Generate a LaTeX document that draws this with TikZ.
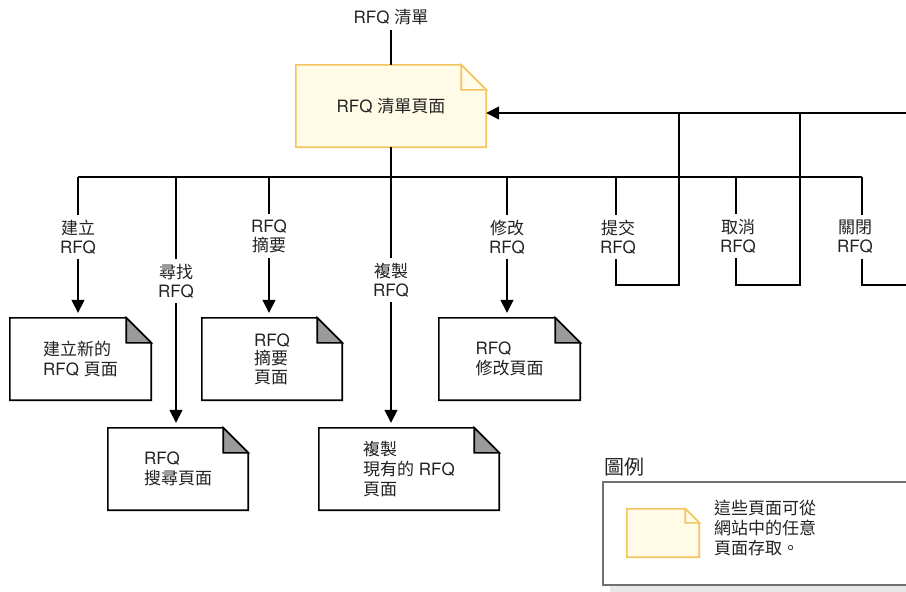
\documentclass[tikz,border=0pt]{standalone}
\usepackage{fontspec}
\setmainfont{TeX Gyre Heros}
\newfontfamily\zhfont{Noto Sans CJK TC}
\newcommand\zh[1]{{\zhfont #1}}
\usetikzlibrary{arrows.meta,backgrounds}
\definecolor{pgfill}{HTML}{FFFBE6}
\definecolor{pgedge}{HTML}{F2C45E}
\definecolor{foldgray}{HTML}{9A9A9A}
\definecolor{legedge}{HTML}{707070}
\definecolor{shadowgray}{HTML}{E8E8E8}
\definecolor{txt}{HTML}{222222}
\tikzset{
  conn/.style={line width=1.6pt, black},
  arr/.style={conn, -{Triangle[width=13pt,length=13pt]}, shorten >=5pt},
  lbl/.style={font=\fontsize{17}{19}\selectfont, text=txt, align=center, inner xsep=2pt, inner ysep=5pt},
  pagenode/.style={font=\fontsize{17}{20}\selectfont, text=txt, align=left, inner sep=0pt},
  whitepage/.style={draw=black, fill=white, line width=1.6pt, line join=miter},
  whitefold/.style={draw=black, fill=foldgray, line width=1.6pt, line join=miter},
  yellowpage/.style={draw=pgedge, fill=pgfill, line width=1.6pt, line join=miter},
  yellowfold/.style={draw=pgedge, fill=pgfill, line width=1.6pt, line join=miter},
}
\newcommand\pageoutline[4]{% name, fold, body style, fold style
  \path[#3] (#1.south west) -- (#1.north west) -- ([xshift=-#2]#1.north east)
    -- ([yshift=-#2]#1.north east) -- (#1.south east) -- cycle;
  \path[#4] ([xshift=-#2]#1.north east) -- ([xshift=-#2,yshift=-#2]#1.north east)
    -- ([yshift=-#2]#1.north east) -- cycle;
}
\begin{document}
\begin{tikzpicture}[x=1pt,y=-1pt]
\useasboundingbox (0,0) rectangle (906,592);
\clip (0,0) rectangle (906,592);

% pages
\node[lbl] (top) at (391,17) {RFQ \zh{清單}};
\node[pagenode, minimum width=190pt, minimum height=82pt, align=center] (main) at (391,106) {RFQ \zh{清單頁面}};
\node[pagenode, minimum width=141pt, minimum height=82pt] (create) at (80.5,359) {\zh{建立新的}\\RFQ \zh{頁面}};
\node[pagenode, minimum width=140pt, minimum height=82pt] (search) at (178,469) {RFQ\\\zh{搜尋頁面}};
\node[pagenode, minimum width=140pt, minimum height=82pt, font=\fontsize{17}{18.5}\selectfont] (summary) at (272,359) {RFQ\\\zh{摘要}\\\zh{頁面}};
\node[pagenode, minimum width=180pt, minimum height=82pt] (copy) at (409,469) {\zh{複製}\\\zh{現有的} RFQ\\\zh{頁面}};
\node[pagenode, minimum width=141pt, minimum height=82pt] (modify) at (509.5,359) {RFQ\\\zh{修改頁面}};

% branch labels
\node[lbl] (l1) at (78,237) {\zh{建立}\\RFQ};
\node[lbl] (l2) at (176,281) {\zh{尋找}\\RFQ};
\node[lbl] (l3) at (269,236) {RFQ\\\zh{摘要}};
\node[lbl] (l4) at (391,280) {\zh{複製}\\RFQ};
\node[lbl] (l5) at (507,237) {\zh{修改}\\RFQ};
\node[lbl] (l6) at (618,237) {\zh{提交}\\RFQ};
\node[lbl] (l7) at (738,236) {\zh{取消}\\RFQ};
\node[lbl] (l8) at (855,237) {\zh{關閉}\\RFQ};

% bus
\coordinate (b1) at (78,177);
\coordinate (b2) at (176,177);
\coordinate (b3) at (269,177);
\coordinate (b4) at (391,177);
\coordinate (b5) at (507,177);
\coordinate (b6) at (616,177);
\coordinate (b7) at (736,177);
\coordinate (b8) at (862,177);
\draw[conn] (b1) -- (b8);
\draw[conn] (top) -- (main);
\draw[conn] (main.south) -- (l4.north);

\draw[conn] (b1) -- (b1 |- l1.north);
\draw[arr] (b1 |- l1.south) -- (b1 |- create.north);
\draw[conn] (b2) -- (b2 |- l2.north);
\draw[arr] (b2 |- l2.south) -- (b2 |- search.north);
\draw[conn] (b3) -- (b3 |- l3.north);
\draw[arr] (b3 |- l3.south) -- (b3 |- summary.north);
\draw[arr] (l4.south) -- (l4.south |- copy.north);
\draw[conn] (b5) -- (b5 |- l5.north);
\draw[arr] (b5 |- l5.south) -- (b5 |- modify.north);

% return paths
\coordinate (r6) at (679,285);
\coordinate (r7) at (800,285);
\coordinate (r8) at (930,285);
\coordinate (rin) at ([yshift=-7pt]main.east);
\draw[conn] (b6) -- (b6 |- l6.north);
\draw[conn] (b6 |- l6.south) -- (b6 |- r6) -- (r6) -- (r6 |- rin);
\draw[conn] (b7) -- (b7 |- l7.north);
\draw[conn] (b7 |- l7.south) -- (b7 |- r7) -- (r7) -- (r7 |- rin);
\draw[conn] (b8) -- (b8 |- l8.north);
\draw[conn] (b8 |- l8.south) -- (b8 |- r8) -- (r8) -- (r8 |- rin);
\draw[arr, shorten >=0pt] (r8 |- rin) -- (rin);

% legend
\node[lbl, anchor=west, inner xsep=0pt, font=\fontsize{20}{22}\selectfont] (legtitle) at (604,467) {\zh{圖例}};
\coordinate (legnw) at (603,482);
\coordinate (legse) at (925,585);
\node[pagenode, minimum width=72pt, minimum height=48pt] (legpage) at (663,533) {};
\node[pagenode, anchor=west] (legtext) at (714,528) {\zh{這些頁面可從}\\\zh{網站中的任意}\\\zh{頁面存取。}};

\begin{scope}[on background layer]
  \fill[shadowgray] (610,489) rectangle (930,592);
  \draw[legedge, line width=1.2pt, fill=white] (legnw) rectangle (legse);
  \pageoutline{main}{25pt}{yellowpage}{yellowfold}
  \pageoutline{create}{25pt}{whitepage}{whitefold}
  \pageoutline{search}{25pt}{whitepage}{whitefold}
  \pageoutline{summary}{25pt}{whitepage}{whitefold}
  \pageoutline{copy}{25pt}{whitepage}{whitefold}
  \pageoutline{modify}{25pt}{whitepage}{whitefold}
  \pageoutline{legpage}{14pt}{yellowpage}{yellowfold}
\end{scope}
\end{tikzpicture}
\end{document}
